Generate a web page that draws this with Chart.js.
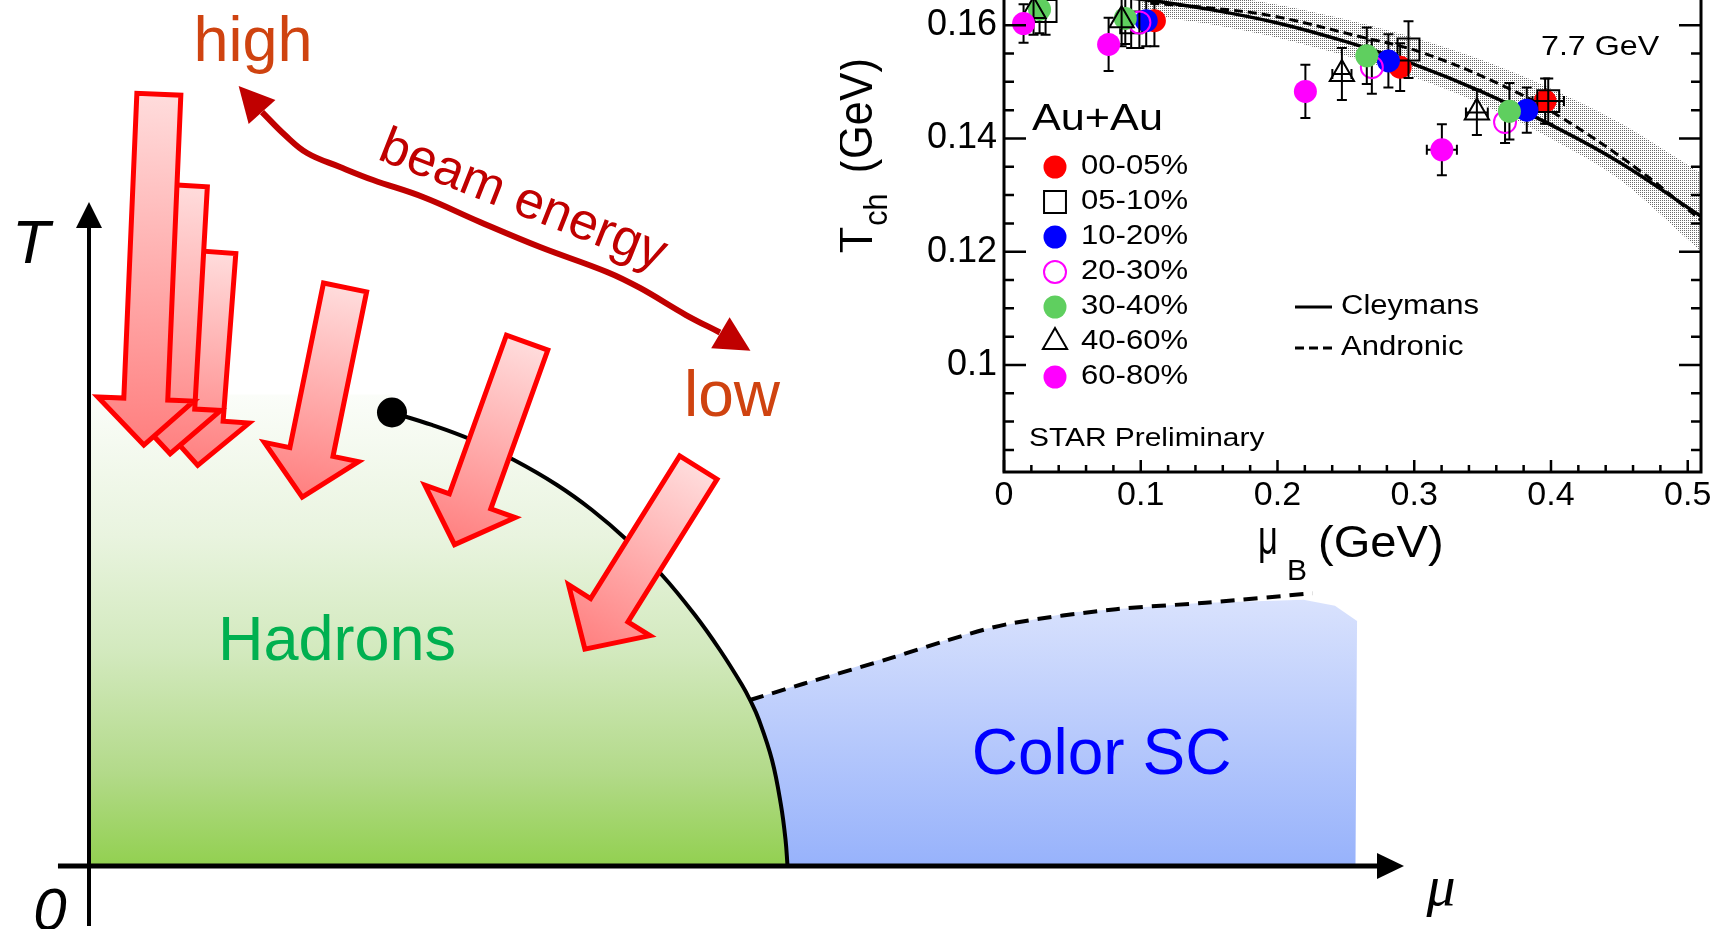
<!DOCTYPE html>
<html>
<head>
<meta charset="utf-8">
<script src="https://cdn.jsdelivr.net/npm/chart.js"></script>
<style>
html,body{margin:0;padding:0;background:#fff;overflow:hidden}
#wrap{position:relative;width:1716px;height:929px;overflow:hidden;background:#fff}
#main{position:absolute;left:0;top:0;width:1716px;height:929px}
#inset{position:absolute;left:840px;top:-60px;width:876px;height:660px}
</style>
</head>
<body>
<div id="wrap">
<canvas id="main" width="1716" height="929"></canvas>
<canvas id="inset" width="876" height="660"></canvas>
</div>
<script>
// ================= DATA: main phase diagram (units: fraction of the mu / T axis arrows) =================
const PHASE_MU = [0.2304, 0.2608, 0.2913, 0.3232, 0.3559, 0.3825, 0.4091, 0.4357, 0.4608, 0.4798, 0.4966, 0.5027, 0.5095, 0.5194, 0.5262, 0.5297, 0.5312];
const PHASE_T  = [0.6830, 0.6642, 0.6416, 0.6114, 0.5738, 0.5361, 0.4910, 0.4383, 0.3780, 0.3253, 0.2726, 0.2500, 0.2199, 0.1596, 0.0919, 0.0392, 0.0000];
const HADRON_EDGE_MU = [0, 0, 0.2304];
const HADRON_EDGE_T  = [0, 0.71, 0.71];
const CSC_EDGE_MU = [0.5027, 0.5840, 0.6791, 0.7468, 0.8449, 0.9236, 0.9475, 0.9643, 0.9631];
const CSC_EDGE_T  = [0.2500, 0.3005, 0.3563, 0.3818, 0.3961, 0.4010, 0.3919, 0.3690, 0.0000];
const DASH_MU = [0.5027, 0.5434, 0.6114, 0.6521, 0.7000, 0.7810, 0.8490, 0.9304];
const DASH_T  = [0.2500, 0.2745, 0.3141, 0.3396, 0.3649, 0.3867, 0.3964, 0.4107];
const CP_MU = [0.2304];
const CP_T  = [0.6830];
// freeze-out block arrows (tail -> tip)
const FO_TAIL_MU = [0.0532, 0.0734, 0.0951, 0.1951, 0.3338, 0.4644];
const FO_TAIL_T  = [1.1661, 1.0286, 0.9285, 0.8750, 0.7917, 0.6032];
const FO_TIP_MU  = [0.0416, 0.0616, 0.0825, 0.1617, 0.2772, 0.3759];
const FO_TIP_T   = [0.6295, 0.6164, 0.5989, 0.5512, 0.4797, 0.3227];
// "beam energy" double arrow
const BEAM_MU = [0.1316, 0.1490, 0.1658, 0.1909, 0.2160, 0.2540, 0.2973, 0.3430, 0.3939, 0.4190, 0.4540, 0.4798];
const BEAM_T  = [1.1355, 1.1009, 1.0738, 1.0527, 1.0331, 1.0075, 0.9699, 0.9322, 0.8946, 0.8705, 0.8298, 0.8035];
const BEAM_TIP_MU = [0.1138, 0.5030];
const BEAM_TIP_T  = [1.1747, 0.7761];
// axes of the diagram
const T_AXIS_MU = [0, 0];
const T_AXIS_T  = [-0.0904, 0.9608];
const T_AXIS_TIP = [0, 1];
const MU_AXIS_MU = [-0.0236, 0.9802];
const MU_AXIS_T  = [0, 0];
const MU_AXIS_TIP = [1, 0];

// ================= DATA: inset (STAR, T_ch vs mu_B) =================
const CENTRALITY = ['00-05%', '05-10%', '10-20%', '20-30%', '30-40%', '40-60%', '60-80%'];
const MU_C0 = [0.1100, 0.2897, 0.3957];          const T_C0 = [0.1608, 0.1526, 0.1466];          const TE_C0 = [0.0045, 0.0042, 0.0040];          const ME_C0 = [0, 0, 0];
const MU_C1 = [0.0304, 0.0930, 0.2958, 0.3980];  const T_C1 = [0.1625, 0.1605, 0.1557, 0.1466];  const TE_C1 = [0.0042, 0.0045, 0.0050, 0.0040];  const ME_C1 = [0, 0, 0, 0.0115];
const MU_C2 = [0.1040, 0.2811, 0.3823];          const T_C2 = [0.1608, 0.1537, 0.1450];          const TE_C2 = [0.0045, 0.0047, 0.0040];          const ME_C2 = [0, 0, 0];
const MU_C3 = [0.0990, 0.2690, 0.3664];          const T_C3 = [0.1605, 0.1526, 0.1429];          const TE_C3 = [0.0045, 0.0047, 0.0037];          const ME_C3 = [0, 0, 0];
const MU_C4 = [0.0260, 0.0887, 0.2653, 0.3696];  const T_C4 = [0.1628, 0.1612, 0.1546, 0.1448];  const TE_C4 = [0.0042, 0.0045, 0.0050, 0.0050];  const ME_C4 = [0, 0, 0, 0];
const MU_C5 = [0.0216, 0.0860, 0.2471, 0.3458];  const T_C5 = [0.1625, 0.1609, 0.1514, 0.1446];  const TE_C5 = [0.0042, 0.0046, 0.0046, 0.0040];  const ME_C5 = [0, 0, 0.0070, 0.0080];
const MU_C6 = [0.0143, 0.0765, 0.2204, 0.3202];  const T_C6 = [0.1603, 0.1566, 0.1483, 0.1380];  const TE_C6 = [0.0034, 0.0047, 0.0047, 0.0045];  const ME_C6 = [0, 0, 0, 0.0110];
const CLEY_MU = [0.00, 0.05, 0.10, 0.15, 0.20, 0.25, 0.30, 0.35, 0.40, 0.45, 0.51];
const CLEY_T  = [0.1660, 0.1657, 0.1646, 0.1628, 0.1604, 0.1571, 0.1531, 0.1482, 0.1424, 0.1358, 0.1262];
const ANDR_MU = [0.107, 0.149, 0.197, 0.260, 0.304, 0.365, 0.407, 0.465, 0.51];
const ANDR_T  = [0.1639, 0.1631, 0.1616, 0.1580, 0.1553, 0.1493, 0.1438, 0.1343, 0.1255];
const BAND_MU = [0.10, 0.15, 0.20, 0.25, 0.30, 0.35, 0.40, 0.45, 0.51];
const BAND_HI = [0.1668, 0.1656, 0.1636, 0.1610, 0.1578, 0.1538, 0.1488, 0.1428, 0.1338];
const BAND_LO = [0.1620, 0.1602, 0.1578, 0.1546, 0.1508, 0.1460, 0.1400, 0.1328, 0.1200];
const X_TICK_STEP = 0.1, Y_TICK_STEP = 0.02;

// ================= helpers / styles =================
const SANS = "'Liberation Sans', Arial, Helvetica, sans-serif";
const SERIF = "'Liberation Serif', 'DejaVu Serif', serif";
Chart.defaults.font.family = SANS;
const zip = (xs, ys) => xs.map((x, i) => ({x: x, y: ys[i]}));

function drawText(ctx, s, x, y, o) {
  ctx.save();
  ctx.translate(x, y);
  if (o.rot) ctx.rotate(o.rot);
  if (o.sx) ctx.scale(o.sx, 1);
  ctx.font = (o.italic ? 'italic ' : '') + o.size + 'px ' + (o.family || SANS);
  ctx.fillStyle = o.color || '#000';
  ctx.textAlign = o.align || 'left';
  ctx.textBaseline = o.baseline || 'alphabetic';
  ctx.fillText(s, 0, 0);
  ctx.restore();
}

// ================= main diagram =================
const HADRON_STOPS = [[0, '#fbfdf9'], [0.3, '#e9f4df'], [0.55, '#d2e9bd'], [0.8, '#b3da8a'], [1, '#92d050']];
const CSC_STOPS = [[0, '#d9e2fd'], [1, '#97b2fb']];
const FO_STYLE = {shaft: 22, head: 48, headLen: 46, tipInset: 3, tailInset: 2.5};
const FO_ORDER = [68, 69, 70, 67, 66, 65];

const DIAGRAM_LABELS = [
  {text: 'high', mu: 0.1247, t: 1.2123, size: 63, color: '#cf4310', align: 'center'},
  {text: 'low', mu: 0.4890, t: 0.6777, size: 64, color: '#cf4310', align: 'center'},
  {text: 'beam energy', mu: 0.3259, t: 0.9815, size: 52, color: '#c00000', align: 'center', rot: 21.5},
  {text: 'Hadrons', mu: 0.1886, t: 0.3102, size: 63, color: '#00b050', align: 'center'},
  {text: 'Color SC', mu: 0.7700, t: 0.1389, size: 64, color: '#0000ff', align: 'center'},
  {text: 'T', mu: -0.0441, t: 0.9081, size: 62, italic: true, align: 'center'},
  {text: '0', mu: -0.0297, t: -0.0964, size: 60, italic: true, align: 'center'},
  {text: 'μ', mu: 1.0281, t: -0.0587, size: 58, italic: true, family: SERIF, align: 'center'}
];

function toPx(chart, mu, t) {
  return {x: chart.scales.x.getPixelForValue(mu), y: chart.scales.y.getPixelForValue(t)};
}

const diagramPlugin = {
  id: 'diagram',
  beforeDatasetDraw(chart, args) {
    const ds = chart.data.datasets[args.index];
    const ctx = chart.ctx;
    const pts = args.meta.data;
    if (ds.shape === 'region') {
      let top = Infinity, bot = -Infinity;
      pts.forEach(p => { top = Math.min(top, p.y); bot = Math.max(bot, p.y); });
      const g = ctx.createLinearGradient(0, top, 0, bot);
      ds.stops.forEach(s => g.addColorStop(s[0], s[1]));
      ctx.save();
      ctx.beginPath();
      pts.forEach((p, i) => i ? ctx.lineTo(p.x, p.y) : ctx.moveTo(p.x, p.y));
      ctx.closePath();
      ctx.fillStyle = g;
      ctx.fill();
      ctx.restore();
    } else if (ds.shape === 'block') {
      const a0 = pts[0], b = pts[1], st = FO_STYLE;
      let dx = b.x - a0.x, dy = b.y - a0.y;
      const L = Math.hypot(dx, dy); dx /= L; dy /= L;
      const nx = -dy, ny = dx;
      const a = {x: a0.x + dx * st.tailInset, y: a0.y + dy * st.tailInset};
      const tip = {x: b.x - dx * st.tipInset, y: b.y - dy * st.tipInset};
      const base = {x: tip.x - dx * st.headLen, y: tip.y - dy * st.headLen};
      const P = [
        [a.x + nx * st.shaft, a.y + ny * st.shaft],
        [base.x + nx * st.shaft, base.y + ny * st.shaft],
        [base.x + nx * st.head, base.y + ny * st.head],
        [tip.x, tip.y],
        [base.x - nx * st.head, base.y - ny * st.head],
        [base.x - nx * st.shaft, base.y - ny * st.shaft],
        [a.x - nx * st.shaft, a.y - ny * st.shaft]
      ];
      const g = ctx.createLinearGradient(a.x, a.y, tip.x, tip.y);
      g.addColorStop(0, '#ffdcdc');
      g.addColorStop(1, '#ff7f7f');
      ctx.save();
      ctx.beginPath();
      P.forEach((p, i) => i ? ctx.lineTo(p[0], p[1]) : ctx.moveTo(p[0], p[1]));
      ctx.closePath();
      ctx.fillStyle = g;
      ctx.fill();
      ctx.lineWidth = 5;
      ctx.lineJoin = 'miter';
      ctx.miterLimit = 10;
      ctx.strokeStyle = '#ff0000';
      ctx.stroke();
      ctx.restore();
    }
  },
  afterDatasetDraw(chart, args) {
    const ds = chart.data.datasets[args.index];
    if (!ds.heads) return;
    const ctx = chart.ctx;
    const pts = args.meta.data;
    ds.heads.forEach(h => {
      const end = h.at === 'start' ? pts[0] : pts[pts.length - 1];
      const tip = toPx(chart, h.mu, h.t);
      let dx = tip.x - end.x, dy = tip.y - end.y;
      const L = Math.hypot(dx, dy); dx /= L; dy /= L;
      const bx = tip.x - dx * ds.headLen, by = tip.y - dy * ds.headLen;
      ctx.save();
      ctx.beginPath();
      ctx.moveTo(tip.x, tip.y);
      ctx.lineTo(bx - dy * ds.headHW, by + dx * ds.headHW);
      ctx.lineTo(bx + dy * ds.headHW, by - dx * ds.headHW);
      ctx.closePath();
      ctx.fillStyle = ds.headColor;
      ctx.fill();
      ctx.restore();
    });
  },
  afterDatasetsDraw(chart) {
    const ctx = chart.ctx;
    DIAGRAM_LABELS.forEach(l => {
      const p = toPx(chart, l.mu, l.t);
      drawText(ctx, l.text, p.x, p.y, {size: l.size, color: l.color, italic: l.italic, family: l.family,
        align: l.align, rot: l.rot ? l.rot * Math.PI / 180 : 0});
    });
  }
};

const J = PHASE_MU.indexOf(CSC_EDGE_MU[0]);
const mainDatasets = [
  {label: 'Hadrons', shape: 'region', stops: HADRON_STOPS, order: 100, clip: false, showLine: false, pointRadius: 0,
   data: zip(HADRON_EDGE_MU.concat(PHASE_MU), HADRON_EDGE_T.concat(PHASE_T))},
  {label: 'Color SC', shape: 'region', stops: CSC_STOPS, order: 99, clip: false, showLine: false, pointRadius: 0,
   data: zip(CSC_EDGE_MU.concat(PHASE_MU.slice(J + 1).reverse()), CSC_EDGE_T.concat(PHASE_T.slice(J + 1).reverse()))},
  {label: 'phase boundary', data: zip(PHASE_MU, PHASE_T), showLine: true, borderColor: '#000', borderWidth: 4,
   tension: 0.4, pointRadius: 0, order: 90, clip: false},
  {label: 'CSC boundary', data: zip(DASH_MU, DASH_T), showLine: true, borderColor: '#000', borderWidth: 4,
   borderDash: [14, 9], tension: 0.3, pointRadius: 0, order: 89, clip: false},
  {label: 'mu axis', data: zip(MU_AXIS_MU, MU_AXIS_T), showLine: true, borderColor: '#000', borderWidth: 5,
   pointRadius: 0, order: 88, clip: false,
   heads: [{at: 'end', mu: MU_AXIS_TIP[0], t: MU_AXIS_TIP[1]}], headLen: 27, headHW: 13, headColor: '#000'},
  {label: 'T axis', data: zip(T_AXIS_MU, T_AXIS_T), showLine: true, borderColor: '#000', borderWidth: 4,
   pointRadius: 0, order: 87, clip: false,
   heads: [{at: 'end', mu: T_AXIS_TIP[0], t: T_AXIS_TIP[1]}], headLen: 26, headHW: 13, headColor: '#000'},
  {label: 'critical point', data: zip(CP_MU, CP_T), showLine: false, pointRadius: 15, pointBackgroundColor: '#000',
   pointBorderWidth: 0, order: 80, clip: false}
];
FO_TAIL_MU.forEach((m, i) => {
  mainDatasets.push({label: 'freeze-out ' + (i + 1), shape: 'block', order: FO_ORDER[i], clip: false,
    showLine: false, pointRadius: 0,
    data: [{x: FO_TAIL_MU[i], y: FO_TAIL_T[i]}, {x: FO_TIP_MU[i], y: FO_TIP_T[i]}]});
});
mainDatasets.push({label: 'beam energy', data: zip(BEAM_MU, BEAM_T), showLine: true, borderColor: '#c00000',
  borderWidth: 6, tension: 0.4, pointRadius: 0, order: 60, clip: false,
  heads: [{at: 'start', mu: BEAM_TIP_MU[0], t: BEAM_TIP_T[0]}, {at: 'end', mu: BEAM_TIP_MU[1], t: BEAM_TIP_T[1]}],
  headLen: 35, headHW: 18, headColor: '#c00000'});

new Chart(document.getElementById('main'), {
  type: 'scatter',
  data: {datasets: mainDatasets},
  options: {
    responsive: false, animation: false, events: [], devicePixelRatio: 1,
    layout: {padding: {left: 89, right: 312, top: 202, bottom: 63}},
    elements: {line: {capBezierPoints: false}},
    scales: {
      x: {type: 'linear', min: 0, max: 1, display: false},
      y: {type: 'linear', min: 0, max: 1, display: false}
    },
    plugins: {legend: {display: false}, tooltip: {enabled: false}}
  },
  plugins: [diagramPlugin]
});

// ================= inset =================
const insetCanvas = document.getElementById('inset');
const ictx = insetCanvas.getContext('2d');
const tile = document.createElement('canvas');
tile.width = 2; tile.height = 2;
const tg = tile.getContext('2d');
tg.fillStyle = '#6a6a6a';
tg.fillRect(0, 0, 1, 1);
const STIPPLE = ictx.createPattern(tile, 'repeat');

const SERIES = [
  {mu: MU_C0, t: T_C0, te: TE_C0, me: ME_C0},
  {mu: MU_C1, t: T_C1, te: TE_C1, me: ME_C1},
  {mu: MU_C2, t: T_C2, te: TE_C2, me: ME_C2},
  {mu: MU_C3, t: T_C3, te: TE_C3, me: ME_C3},
  {mu: MU_C4, t: T_C4, te: TE_C4, me: ME_C4},
  {mu: MU_C5, t: T_C5, te: TE_C5, me: ME_C5},
  {mu: MU_C6, t: T_C6, te: TE_C6, me: ME_C6}
];
const SERIES_STYLE = [
  {shape: 'circle', r: 11.5, color: '#ff0000', open: false},
  {shape: 'rect', r: 15.5, color: '#000000', open: true},
  {shape: 'circle', r: 11.5, color: '#0000ff', open: false},
  {shape: 'circle', r: 11, color: '#ff00ff', open: true},
  {shape: 'circle', r: 11.5, color: '#5fcf5f', open: false},
  {shape: 'triangle', r: 14, color: '#000000', open: true},
  {shape: 'circle', r: 11.5, color: '#ff00ff', open: false}
];

function drawMarker(ctx, st, x, y) {
  ctx.save();
  ctx.beginPath();
  if (st.shape === 'circle') {
    ctx.arc(x, y, st.r, 0, Math.PI * 2);
  } else if (st.shape === 'rect') {
    const s = st.r * Math.SQRT1_2;
    ctx.rect(x - s, y - s, 2 * s, 2 * s);
  } else {
    let a = 0;
    ctx.moveTo(x + Math.sin(a) * st.r, y - Math.cos(a) * st.r);
    a += 2 * Math.PI / 3; ctx.lineTo(x + Math.sin(a) * st.r, y - Math.cos(a) * st.r);
    a += 2 * Math.PI / 3; ctx.lineTo(x + Math.sin(a) * st.r, y - Math.cos(a) * st.r);
    ctx.closePath();
  }
  if (st.open) { ctx.lineWidth = 2; ctx.strokeStyle = st.color; ctx.stroke(); }
  else { ctx.fillStyle = st.color; ctx.fill(); }
  ctx.restore();
}

const insetDatasets = [
  {label: 'band low', data: zip(BAND_MU, BAND_LO), showLine: true, borderWidth: 0, borderColor: 'rgba(0,0,0,0)',
   pointRadius: 0, tension: 0.3, fill: false, order: 41},
  {label: 'band high', data: zip(BAND_MU, BAND_HI), showLine: true, borderWidth: 0, borderColor: 'rgba(0,0,0,0)',
   pointRadius: 0, tension: 0.3, fill: '-1', backgroundColor: STIPPLE, order: 40},
  {label: 'Cleymans', data: zip(CLEY_MU, CLEY_T), showLine: true, borderColor: '#000', borderWidth: 3.5,
   tension: 0.4, pointRadius: 0, order: 30},
  {label: 'Andronic', data: zip(ANDR_MU, ANDR_T), showLine: true, borderColor: '#000', borderWidth: 3,
   borderDash: [9, 5], tension: 0.4, pointRadius: 0, order: 31}
];
SERIES.forEach((s, i) => {
  const st = SERIES_STYLE[i];
  insetDatasets.push({
    label: CENTRALITY[i], data: zip(s.mu, s.t), yErr: s.te, xErr: s.me, showLine: false,
    pointStyle: st.shape, pointRadius: st.r,
    pointBackgroundColor: st.open ? 'rgba(0,0,0,0)' : st.color,
    pointBorderColor: st.color, pointBorderWidth: st.open ? 2 : 0, order: 10 - i
  });
});

const LEG = {markerX: 215, textX: 241, row0: 227, dy: 35};
const insetPlugin = {
  id: 'insetDecor',
  beforeDatasetDraw(chart, args) {
    const ds = chart.data.datasets[args.index];
    if (!ds.yErr) return;
    const xs = chart.scales.x, ys = chart.scales.y, ctx = chart.ctx, CAP = 5;
    ctx.save();
    ctx.strokeStyle = '#000';
    ctx.lineWidth = 2;
    ds.data.forEach((p, i) => {
      const cx = xs.getPixelForValue(p.x), cy = ys.getPixelForValue(p.y);
      ctx.beginPath();
      const e = ds.yErr[i];
      if (e) {
        const y1 = ys.getPixelForValue(p.y + e), y2 = ys.getPixelForValue(p.y - e);
        ctx.moveTo(cx, y1); ctx.lineTo(cx, y2);
        ctx.moveTo(cx - CAP, y1); ctx.lineTo(cx + CAP, y1);
        ctx.moveTo(cx - CAP, y2); ctx.lineTo(cx + CAP, y2);
      }
      const h = ds.xErr ? ds.xErr[i] : 0;
      if (h) {
        const x1 = xs.getPixelForValue(p.x - h), x2 = xs.getPixelForValue(p.x + h);
        ctx.moveTo(x1, cy); ctx.lineTo(x2, cy);
        ctx.moveTo(x1, cy - CAP); ctx.lineTo(x1, cy + CAP);
        ctx.moveTo(x2, cy - CAP); ctx.lineTo(x2, cy + CAP);
      }
      ctx.stroke();
    });
    ctx.restore();
  },
  afterDraw(chart) {
    const ctx = chart.ctx, A = chart.chartArea, xs = chart.scales.x, ys = chart.scales.y;
    ctx.save();
    ctx.strokeStyle = '#000';
    ctx.lineWidth = 3;
    ctx.strokeRect(A.left, A.top, A.right - A.left, A.bottom - A.top);
    ctx.lineWidth = 2.5;
    ctx.beginPath();
    for (let k = Math.ceil(ys.min / 0.005 - 1e-6); k * 0.005 <= ys.max + 1e-9; k++) {
      const v = k * 0.005, y = ys.getPixelForValue(v);
      const major = Math.abs(v / Y_TICK_STEP - Math.round(v / Y_TICK_STEP)) < 1e-6;
      const len = major ? 22 : 10;
      ctx.moveTo(A.left, y); ctx.lineTo(A.left + len, y);
      ctx.moveTo(A.right, y); ctx.lineTo(A.right - len, y);
    }
    for (let k = 0; k * 0.02 <= xs.max + 1e-9; k++) {
      const v = k * 0.02, x = xs.getPixelForValue(v);
      const major = Math.abs(v / X_TICK_STEP - Math.round(v / X_TICK_STEP)) < 1e-6;
      const len = major ? 12 : 7;
      ctx.moveTo(x, A.bottom); ctx.lineTo(x, A.bottom - len);
    }
    ctx.stroke();
    ctx.restore();

    // legend (centralities)
    drawText(ctx, 'Au+Au', 192, 190, {size: 36, sx: 1.2});
    CENTRALITY.forEach((lab, i) => {
      const y = LEG.row0 + i * LEG.dy;
      drawMarker(ctx, SERIES_STYLE[i], LEG.markerX, y);
      drawText(ctx, lab, LEG.textX, y, {size: 27, sx: 1.15, baseline: 'middle'});
    });
    // legend (models)
    ctx.save();
    ctx.strokeStyle = '#000';
    ctx.lineWidth = 3;
    ctx.beginPath(); ctx.moveTo(455, 367); ctx.lineTo(492, 367); ctx.stroke();
    ctx.setLineDash([9, 5]);
    ctx.beginPath(); ctx.moveTo(455, 408); ctx.lineTo(492, 408); ctx.stroke();
    ctx.restore();
    drawText(ctx, 'Cleymans', 501, 367, {size: 27, sx: 1.15, baseline: 'middle'});
    drawText(ctx, 'Andronic', 501, 408, {size: 27, sx: 1.15, baseline: 'middle'});
    drawText(ctx, 'STAR Preliminary', 189, 506, {size: 26, sx: 1.15});
    drawText(ctx, '7.7 GeV', 701, 115, {size: 28, sx: 1.15});

    // axis titles with subscripts
    const rot = -Math.PI / 2;
    const ox = 31.7, oy = 313.3;
    const piece = (s, along, cross, size) => {
      ctx.save();
      ctx.translate(ox, oy); ctx.rotate(rot); ctx.translate(along, cross); ctx.scale(0.9, 1);
      ctx.font = size + 'px ' + SANS; ctx.fillStyle = '#000'; ctx.textAlign = 'left'; ctx.textBaseline = 'alphabetic';
      ctx.fillText(s, 0, 0);
      ctx.restore();
    };
    piece('T', 0, 0, 48);
    piece('ch', 27.5, 15, 34);
    piece('(GeV)', 80, 0, 48);
    drawText(ctx, 'μ', 418, 614, {size: 48, sx: 0.72});
    drawText(ctx, 'B', 447, 640, {size: 30});
    drawText(ctx, '(GeV)', 478, 617, {size: 44, sx: 1.07});
  }
};

const fmt = v => String(parseFloat(Number(v).toFixed(3)));
new Chart(insetCanvas, {
  type: 'scatter',
  data: {datasets: insetDatasets},
  options: {
    responsive: false, animation: false, events: [], devicePixelRatio: 1,
    layout: {padding: {left: 0, right: 15, top: 13.5, bottom: 0}, autoPadding: false},
    elements: {line: {capBezierPoints: false}},
    scales: {
      x: {
        type: 'linear', min: 0, max: 0.5097,
        afterFit: s => { s.height = 128; },
        grid: {display: false, drawTicks: false}, border: {display: false},
        ticks: {stepSize: X_TICK_STEP, includeBounds: false, padding: 3, color: '#000', autoSkip: false,
                maxRotation: 0, font: {size: 34, family: SANS}, callback: v => fmt(v)}
      },
      y: {
        type: 'linear', min: 0.0811, max: 0.17,
        afterFit: s => { s.width = 164; },
        grid: {display: false, drawTicks: false}, border: {display: false},
        ticks: {stepSize: Y_TICK_STEP, includeBounds: false, padding: 7, color: '#000', autoSkip: false,
                font: {size: 36, family: SANS}, callback: v => fmt(v)}
      }
    },
    plugins: {legend: {display: false}, tooltip: {enabled: false}}
  },
  plugins: [insetPlugin]
});
</script>
</body>
</html>
